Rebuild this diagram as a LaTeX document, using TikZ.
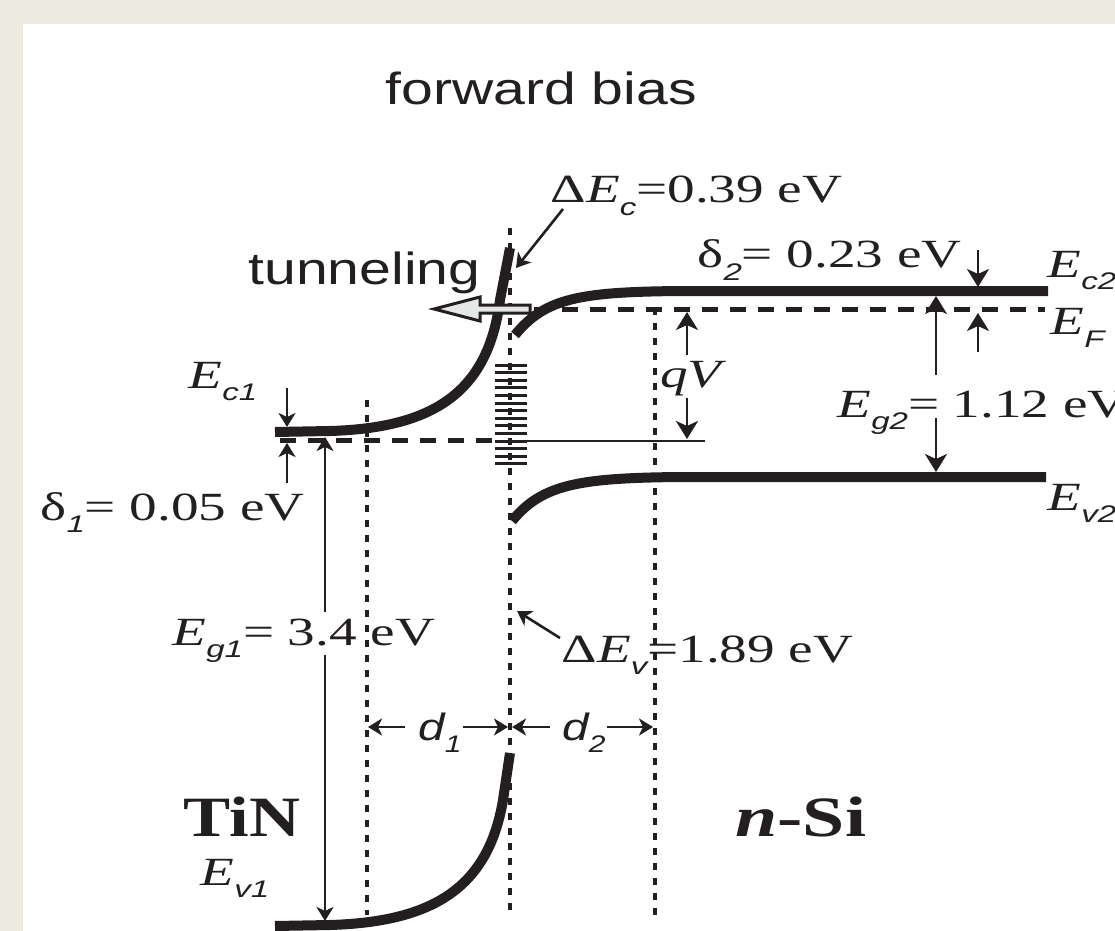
\documentclass[tikz,border=0pt]{standalone}
\usepackage{fontspec}
\setmainfont{Liberation Serif}
\newfontfamily\hv{Liberation Sans}
\usetikzlibrary{arrows.meta}
\definecolor{ink}{HTML}{231F20}
\definecolor{beige}{HTML}{EDEBE0}
\definecolor{arrfill}{HTML}{E6E8E8}
\newcommand\sbs[1]{\raisebox{-6pt}{\hv\itshape\fontsize{12}{12}\selectfont #1}}
\tikzset{
  lab/.style={inner sep=0pt, anchor=base west, text=ink, font=\fontsize{20}{24}\selectfont, xscale=1.38},
  slab/.style={inner sep=0pt, anchor=base west, text=ink, font=\hv\fontsize{22.5}{26}\selectfont, xscale=1.27},
  dlab/.style={inner sep=0pt, anchor=base west, text=ink, font=\hv\itshape\fontsize{19}{22}\selectfont, xscale=1.25},
  blab/.style={inner sep=0pt, anchor=base west, text=ink, font=\bfseries\fontsize{28.5}{32}\selectfont},
  dotl/.style={ink, line width=2pt, dash pattern=on 3.5pt off 4pt},
  dashl/.style={ink, line width=2.5pt, dash pattern=on 8pt off 6pt},
  band/.style={ink, line width=5pt},
  arr/.style={ink, line width=1.3pt, -{Stealth[length=9pt,width=11pt,inset=2.5pt]}},
  sarr/.style={ink, line width=1.3pt, -{Stealth[length=7pt,width=8.5pt,inset=2pt]}},
}
\begin{document}
\begin{tikzpicture}[x=0.5pt,y=-0.5pt]
\useasboundingbox (0,0) rectangle (1115,931);
\clip (0,0) rectangle (1115,931);
\fill[beige] (0,0) rectangle (1115,931);
\fill[white] (23,24) rectangle (1115,931);

% dotted vertical lines
\draw[dotl] (367,400) -- (367,915);
\draw[dotl] (510,228) -- (510,915);
\draw[dotl] (655,308) -- (655,915);

% dashed levels
\draw[dashl] (280,440) -- (500,440);
\draw[dashl] (534,309) -- (1045,309);
\draw[ink, line width=1pt] (495,441) -- (705,441);

% bands
\draw[band] (275,432) -- (330,431) .. controls (430,428) and (488,395) .. (500,300) -- (510,248);
\draw[band] (275,926) -- (330,925) .. controls (430,922) and (488,890) .. (503,800) -- (510,753);
\draw[band] (515,335) .. controls (545,298) and (580,292) .. (680,291) -- (1048,291);
\draw[band] (512,521) .. controls (542,484) and (580,478) .. (680,477) -- (1046,477);

% interface states
\foreach \i in {0,...,13} \draw[ink, line width=1.5pt] (495,{365+7.6*\i}) -- (527,{365+7.6*\i});

% tunneling arrow
\draw[ink, line width=1.5pt, fill=arrfill, line join=miter] (434,309) -- (480,297) -- (480,305) -- (530,305) -- (530,313) -- (480,313) -- (480,321) -- cycle;

% labels
\node[slab] (fb) at (385,105) {forward bias};
\node[slab] (tun) at (248,285) {tunneling};
\node[lab] (dEc) at (550,203) {Δ\textit{E}\sbs{c}=0.39 eV};
\node[lab] (d2) at (697,268) {δ\sbs{2}= 0.23 eV};
\node[lab] (Ec2) at (1047,278) {\textit{E}\sbs{c2}};
\node[lab] (EF) at (1050,335) {\textit{E}\sbs{F}};
\node[lab, fill=white, inner sep=1pt] (qV) at (657,387) {\textit{qV}};
\node[lab] (Eg2) at (837,417) {\textit{E}\sbs{g2}= 1.12 eV};
\node[lab] (Ev2) at (1047,510) {\textit{E}\sbs{v2}};
\node[lab] (Ec1) at (188,388) {\textit{E}\sbs{c1}};
\node[lab] (d1) at (40,520) {δ\sbs{1}= 0.05 eV};
\node[lab] (Eg1) at (172,645) {\textit{E}\sbs{g1}= 3.4 eV};
\node[lab] (dEv) at (561,662) {Δ\textit{E}\sbs{v}=1.89 eV};
\node[dlab] (dd1) at (418,740) {d\sbs{1}};
\node[dlab] (dd2) at (562,740) {d\sbs{2}};
\node[blab, xscale=1.24] (TiN) at (183,836) {TiN};
\node[blab, xscale=1.33] (nSi) at (735,836) {\textit{n}-Si};
\node[lab] (Ev1) at (200,885) {\textit{E}\sbs{v1}};

% arrow end points
\coordinate (dEcA) at (563,209); \coordinate (dEcB) at (516,268);
\coordinate (dEvA) at (560,638); \coordinate (dEvB) at (517,611);
\coordinate (d2a) at (978,250); \coordinate (d2b) at (978,287);
\coordinate (d2c) at (978,352); \coordinate (d2d) at (978,313);
\coordinate (g2a) at (936,375); \coordinate (g2b) at (936,296);
\coordinate (g2c) at (936,418); \coordinate (g2d) at (936,472);
\coordinate (qa) at (687,355); \coordinate (qb) at (687,312);
\coordinate (qc) at (687,398); \coordinate (qd) at (687,439);
\coordinate (d1a) at (287,388); \coordinate (d1b) at (287,427);
\coordinate (d1c) at (287,483); \coordinate (d1d) at (287,443);
\coordinate (g1a) at (325,612); \coordinate (g1b) at (325,437);
\coordinate (g1c) at (325,655); \coordinate (g1d) at (325,921);
\coordinate (w1a) at (405,727); \coordinate (w1b) at (368,727);
\coordinate (w1c) at (463,727); \coordinate (w1d) at (508,727);
\coordinate (w2a) at (550,727); \coordinate (w2b) at (512,727);
\coordinate (w2c) at (607,727); \coordinate (w2d) at (653,727);

\draw[sarr] (dEcA) -- (dEcB);
\draw[sarr] (dEvA) -- (dEvB);
\draw[arr] (d2a) -- (d2b);
\draw[arr] (d2c) -- (d2d);
\draw[arr] (g2a) -- (g2b);
\draw[arr] (g2c) -- (g2d);
\draw[arr] (qa) -- (qb);
\draw[arr] (qc) -- (qd);
\draw[sarr] (d1a) -- (d1b);
\draw[sarr] (d1c) -- (d1d);
\draw[sarr] (g1a) -- (g1b);
\draw[sarr] (g1c) -- (g1d);
\draw[sarr] (w1a) -- (w1b);
\draw[sarr] (w1c) -- (w1d);
\draw[sarr] (w2a) -- (w2b);
\draw[sarr] (w2c) -- (w2d);
\end{tikzpicture}
\end{document}
